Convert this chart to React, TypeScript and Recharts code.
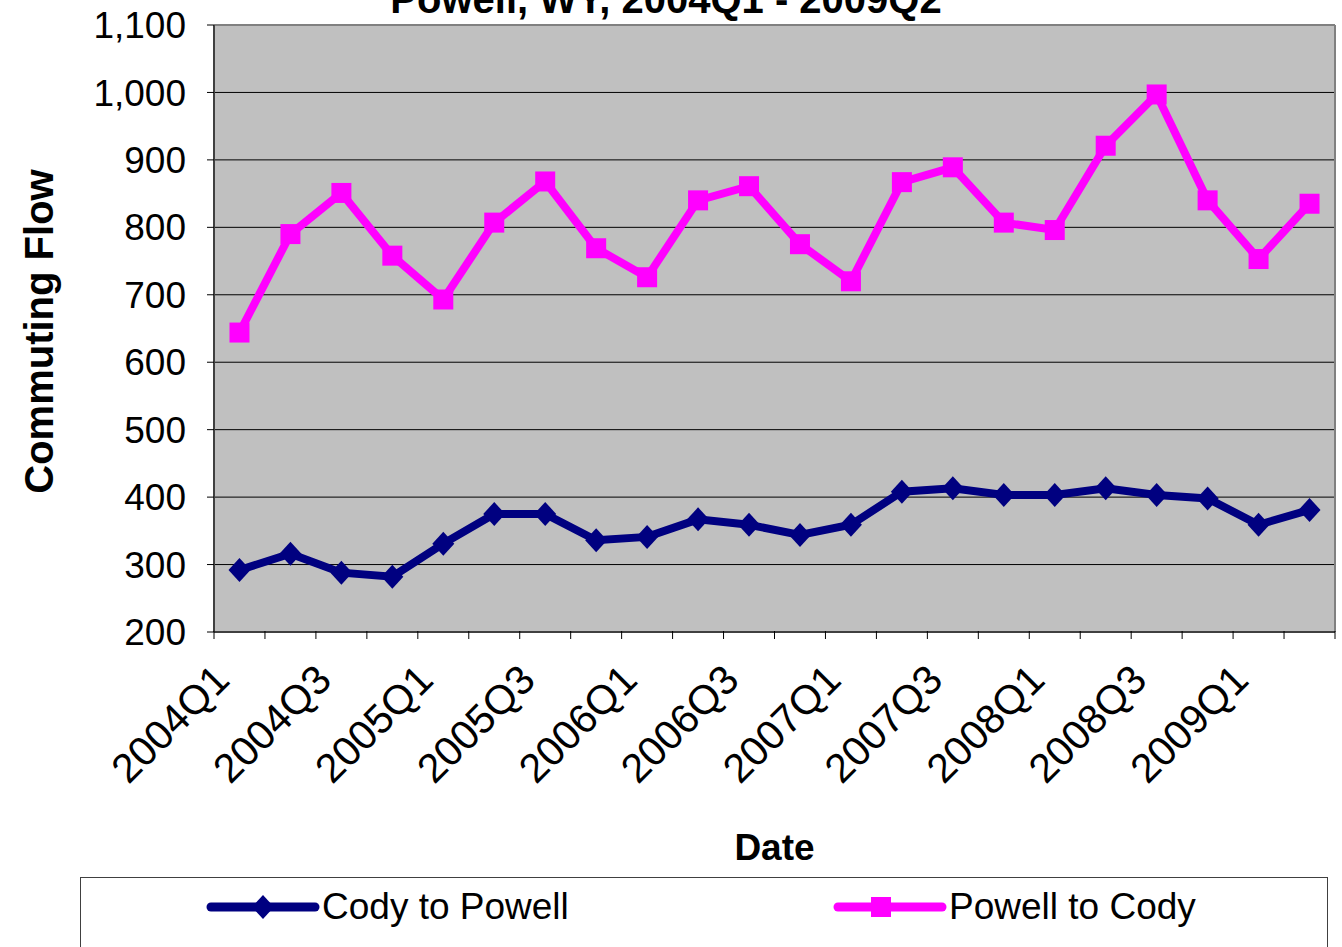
import React from 'react';
import { LineChart, Line, XAxis, YAxis, CartesianGrid, Legend, Customized } from 'recharts';

const quarters = [
  '2004Q1', '2004Q2', '2004Q3', '2004Q4',
  '2005Q1', '2005Q2', '2005Q3', '2005Q4',
  '2006Q1', '2006Q2', '2006Q3', '2006Q4',
  '2007Q1', '2007Q2', '2007Q3', '2007Q4',
  '2008Q1', '2008Q2', '2008Q3', '2008Q4',
  '2009Q1', '2009Q2',
];
const codyToPowell = [292, 316, 288, 282, 331, 375, 375, 336, 341, 367, 359, 344, 359, 408, 413, 403, 403, 413, 403, 398, 359, 381];
const powellToCody = [644, 790, 851, 758, 693, 807, 868, 769, 726, 840, 861, 775, 720, 867, 889, 807, 796, 921, 997, 840, 753, 835];
const yTicks = [200, 300, 400, 500, 600, 700, 800, 900, 1000, 1100];

const title = 'Powell, WY, 2004Q1 - 2009Q2';
const seriesNames = ['Cody to Powell', 'Powell to Cody'];
const seriesColors = ['#000080', '#FF00FF'];

const data = quarters.map((q, i) => ({ q, cody: codyToPowell[i], powell: powellToCody[i] }));

const FONT = '"Liberation Sans", Arial, sans-serif';

const Diamond = ({ cx, cy, fill }: any) => (
  <polygon points={`${cx},${cy - 12} ${cx + 11},${cy} ${cx},${cy + 12} ${cx - 11},${cy}`} fill={fill} />
);
const Square = ({ cx, cy, fill }: any) => <rect x={cx - 10} y={cy - 10} width={20} height={20} fill={fill} />;

// tick mark at each category boundary, label on every other category
const XTick = ({ x, y, payload, index }: any) => {
  const half = payload?.offset ?? 0;
  const ax = x - 18;
  const ay = y + 40;
  const last = index === quarters.length - 1;
  return (
    <g>
      <line x1={x - half} y1={y - 1} x2={x - half} y2={y + 7} stroke="#000" />
      {last && <line x1={x + half} y1={y - 1} x2={x + half} y2={y + 7} stroke="#000" />}
      {index % 2 === 0 && (
        <text x={ax} y={ay} transform={`rotate(-45 ${ax} ${ay})`} textAnchor="end" dy="0.35em" fontSize={41} fontFamily={FONT} fill="#000">
          {payload.value}
        </text>
      )}
    </g>
  );
};

const LegendBox = () => (
  <div style={{ position: 'relative', width: 1248, height: 70, boxSizing: 'border-box', borderTop: '1px solid #404040', borderLeft: '1px solid #404040', borderRight: '1px solid #404040', fontFamily: FONT, fontSize: 37, background: '#fff' }}>
    {seriesNames.map((name, i) => (
      <div key={name} style={{ position: 'absolute', left: i === 0 ? 125 : 752, top: 9, height: 40, display: 'flex', alignItems: 'center', whiteSpace: 'nowrap' }}>
        <svg width={114} height={30}>
          <line x1={5} y1={15} x2={109} y2={15} stroke={seriesColors[i]} strokeWidth={9} strokeLinecap="round" />
          {i === 0 ? <Diamond cx={57} cy={15} fill={seriesColors[i]} /> : <Square cx={48} cy={15} fill={seriesColors[i]} />}
        </svg>
        <span style={{ marginLeft: 2 }}>{name}</span>
      </div>
    ))}
  </div>
);

const Title = (props: any) => {
  const w = props.width ?? 1342;
  return (
    <text x={w / 2 - 5} y={13} textAnchor="middle" fontSize={40} fontWeight="bold" fontFamily={FONT} fill="#000">
      {title}
    </text>
  );
};

export default function App() {
  return (
    <div style={{ position: 'absolute', left: 0, top: 0, width: 1342, height: 947 }}>
      <LineChart width={1342} height={947} data={data} margin={{ top: 25, right: 7, left: 0, bottom: 244 }}>
        <CartesianGrid vertical={false} fill="#C0C0C0" stroke="#000" strokeWidth={1} />
        <CartesianGrid
          horizontalCoordinatesGenerator={({ offset }: any) => [offset.top]}
          verticalCoordinatesGenerator={({ offset }: any) => [offset.left + offset.width]}
          stroke="#808080"
          strokeWidth={2}
        />
        <XAxis
          dataKey="q"
          scale="band"
          height={1}
          interval={0}
          tickSize={0}
          tickMargin={0}
          tickLine={false}
          axisLine={{ stroke: '#404040', strokeWidth: 2 }}
          tick={<XTick />}
          label={{
            content: ({ viewBox }: any) => (
              <text x={viewBox.x + viewBox.width / 2} y={viewBox.y + 228} textAnchor="middle" fontSize={37} fontWeight="bold" fontFamily={FONT} fill="#000">
                Date
              </text>
            ),
          }}
        />
        <YAxis
          width={214}
          domain={[200, 1100]}
          ticks={yTicks}
          interval={0}
          tickFormatter={(v: number) => v.toLocaleString('en-US')}
          tick={{ fontSize: 37, fontFamily: FONT, fill: '#000' }}
          tickSize={7}
          tickMargin={21}
          axisLine={{ stroke: '#404040', strokeWidth: 2 }}
          tickLine={{ stroke: '#000' }}
          label={{
            content: ({ viewBox }: any) => {
              const cy = viewBox.y + viewBox.height / 2 + 3;
              return (
                <text x={53} y={cy} transform={`rotate(-90 53 ${cy})`} textAnchor="middle" fontSize={40} fontWeight="bold" fontFamily={FONT} fill="#000">
                  Commuting Flow
                </text>
              );
            },
          }}
        />
        <Line
          dataKey="cody"
          name={seriesNames[0]}
          stroke={seriesColors[0]}
          strokeWidth={8}
          dot={<Diamond fill={seriesColors[0]} />}
          activeDot={false}
          isAnimationActive={false}
        />
        <Line
          dataKey="powell"
          name={seriesNames[1]}
          stroke={seriesColors[1]}
          strokeWidth={8}
          dot={<Square fill={seriesColors[1]} />}
          activeDot={false}
          isAnimationActive={false}
        />
        <Legend
          verticalAlign="bottom"
          content={<LegendBox />}
          wrapperStyle={{ left: 80, top: 877, width: 1248, height: 70 }}
        />
        <Customized component={Title} />
      </LineChart>
    </div>
  );
}
